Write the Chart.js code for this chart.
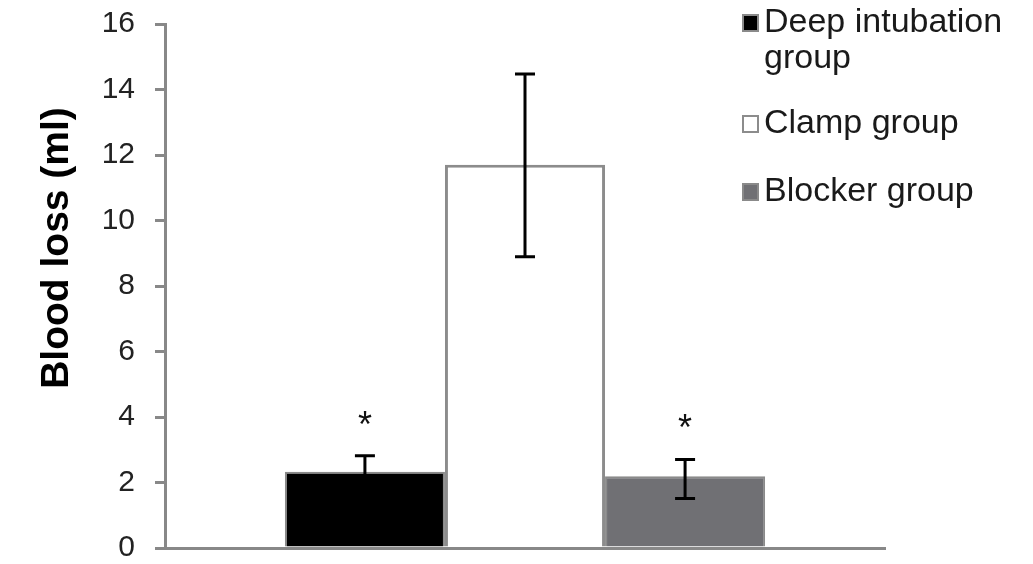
<!DOCTYPE html>
<html>
<head>
<meta charset="utf-8">
<script src="https://cdn.jsdelivr.net/npm/chart.js@4/dist/chart.umd.min.js"></script>
<style>
  html, body { margin: 0; padding: 0; background: #fff; }
  #wrap { width: 1033px; height: 564px; position: relative; }
</style>
</head>
<body>
<div id="wrap"><canvas id="chart"></canvas></div>
<script>
// values
const groups = ['Deep intubation group', 'Clamp group', 'Blocker group'];
const legendLines = [['Deep intubation', 'group'], ['Clamp group'], ['Blocker group']];
const bloodLoss = [2.33, 11.7, 2.19];
const errLow = [1.84, 8.89, 1.51];
const errHigh = [2.82, 14.47, 2.70];
const marks = ['*', '', '*'];
const yTicks = [0, 2, 4, 6, 8, 10, 12, 14, 16];

const fills = ['#000000', '#ffffff', '#707074'];
const edges = ['#8a8a8a', '#8c8c8c', '#8a8a8a'];
const edgeW = [2, 3, 2];
const FONT = '"Liberation Sans", Arial, sans-serif';

const extras = {
  id: 'extras',
  afterDatasetsDraw(chart) {
    const ctx = chart.ctx;
    const y = chart.scales.y;
    ctx.save();
    chart.data.datasets.forEach((ds, i) => {
      const bar = chart.getDatasetMeta(i).data[0];
      const x = bar.x;
      const top = y.getPixelForValue(errHigh[i]);
      const bot = y.getPixelForValue(errLow[i]);
      ctx.strokeStyle = '#000';
      ctx.lineWidth = 3;
      ctx.beginPath();
      ctx.moveTo(x, top); ctx.lineTo(x, bot);
      ctx.moveTo(x - 10, top); ctx.lineTo(x + 10, top);
      ctx.moveTo(x - 10, bot); ctx.lineTo(x + 10, bot);
      ctx.stroke();
      if (marks[i]) {
        ctx.fillStyle = '#111';
        ctx.font = '36px ' + FONT;
        ctx.textAlign = 'center';
        ctx.textBaseline = 'middle';
        ctx.fillText(marks[i], x, top - 29);
      }
    });
    ctx.restore();
  },
  afterDraw(chart) {
    const ctx = chart.ctx;
    ctx.save();
    // y title
    ctx.translate(57, 248);
    ctx.rotate(-Math.PI / 2);
    ctx.fillStyle = '#000';
    ctx.font = 'bold 39px ' + FONT;
    ctx.textAlign = 'center';
    ctx.textBaseline = 'middle';
    ctx.fillText('Blood loss (ml)', 0, 0);
    ctx.restore();

    // legend
    ctx.save();
    const rows = [23, 124, 192];
    ctx.font = '34px ' + FONT;
    ctx.textBaseline = 'middle';
    ctx.textAlign = 'left';
    legendLines.forEach((lines, i) => {
      const cy = rows[i];
      ctx.fillStyle = fills[i];
      ctx.fillRect(743, cy - 8, 15, 16);
      ctx.strokeStyle = edges[i];
      ctx.lineWidth = 2;
      ctx.strokeRect(743, cy - 8, 15, 16);
      ctx.fillStyle = '#1a1a1a';
      lines.forEach((t, k) => ctx.fillText(t, 764, cy + k * 36));
    });
    ctx.restore();
  }
};

new Chart(document.getElementById('chart'), {
  type: 'bar',
  data: {
    labels: [''],
    datasets: groups.map((g, i) => ({
      label: g,
      data: [bloodLoss[i]],
      backgroundColor: fills[i],
      borderColor: edges[i],
      borderWidth: edgeW[i],
      borderSkipped: 'start',
      categoryPercentage: 0.667,
      barPercentage: 1
    }))
  },
  options: {
    responsive: true,
    maintainAspectRatio: false,
    animation: false,
    layout: { padding: { left: 0, right: 148, top: 24, bottom: 16 } },
    plugins: { legend: { display: false }, tooltip: { enabled: false } },
    scales: {
      x: {
        grid: { display: false },
        border: { display: true, color: '#888', width: 3 },
        ticks: { display: false },
        afterFit(s) {
          s.height = 0;
          s.paddingLeft = 0; s.paddingRight = 0; s.paddingTop = 0; s.paddingBottom = 0;
        }
      },
      y: {
        min: 0,
        max: 16,
        afterBuildTicks(s) { s.ticks = yTicks.map(v => ({ value: v })); },
        grid: { drawOnChartArea: false, drawTicks: true, tickLength: 10, color: '#888', lineWidth: 3 },
        border: { display: true, color: '#888', width: 3 },
        ticks: { color: '#222', padding: 20, font: { family: FONT, size: 30 } },
        afterFit(s) {
          s.width = 165;
          s.paddingTop = 0; s.paddingBottom = 0; s.paddingLeft = 0; s.paddingRight = 0;
        }
      }
    }
  },
  plugins: [extras]
});
</script>
</body>
</html>
